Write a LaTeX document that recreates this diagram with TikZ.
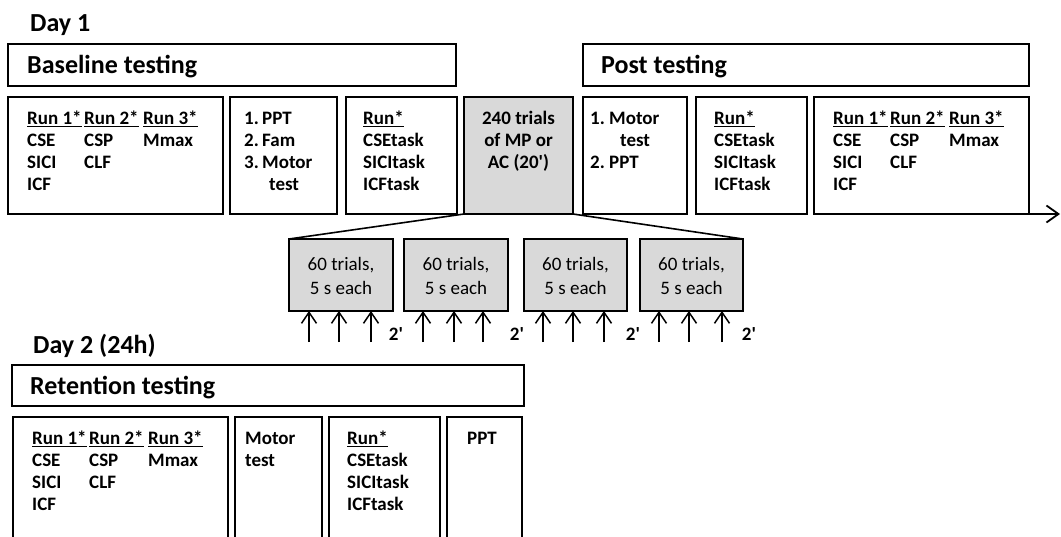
\documentclass[tikz,border=0pt]{standalone}
\usepackage{fontspec}
\setmainfont{Carlito}
\usetikzlibrary{arrows.meta}
\definecolor{boxgray}{RGB}{217,217,217}
\newcommand\ulword[1]{\leavevmode\setbox0=\hbox{#1}\rlap{\rule[-3.2pt]{\wd0}{1.3pt}}\box0}
\newcommand\numline[3]{\makebox[#1][l]{#2}#3}
\newcommand\runtable{\begin{tabular}[t]{@{}p{57pt}@{}p{59pt}@{}l@{}}\ulword{Run 1*}&\ulword{Run 2*}&\ulword{Run 3*}\\ CSE&CSP&Mmax\\ SICI&CLF&\\ ICF&&\end{tabular}}
\newcommand\tasktable{\begin{tabular}[t]{@{}l@{}}\ulword{Run*}\\ CSEtask\\ SICItask\\ ICFtask\end{tabular}}
\begin{document}
\begin{tikzpicture}[x=1pt,y=-1pt,
  box/.style={draw, line width=1.8pt, anchor=north west, inner sep=0pt, outer sep=0pt},
  graybox/.style={box, fill=boxgray},
  titletext/.style={font=\bfseries\fontsize{26}{30}\selectfont, anchor=base west, inner sep=0pt},
  bodytext/.style={font=\bfseries\fontsize{19}{22.3}\selectfont, anchor=base west, inner sep=0pt},
  plaintext/.style={font=\fontsize{19}{24}\selectfont, anchor=base, inner sep=0pt},
  linkline/.style={line width=1.6pt},
  uparrow/.style={line width=1.5pt, -{Straight Barb[length=11pt,width=15pt]}},
  timeline/.style={line width=1.8pt, -{Straight Barb[length=12pt,width=17pt]}}
]
\useasboundingbox (0,0) rectangle (1061,536);
\clip (0,0) rectangle (1061,536);
\fill[white] (0,0) rectangle (1061,536);

% Day 1
\node[titletext] (day1) at (30,31) {Day 1};
\node[box, minimum width=448pt, minimum height=42pt] (BL) at (8,44) {};
\node[box, minimum width=446pt, minimum height=42pt] (PT) at (583,44) {};
\node[titletext] (bltxt) at (27,73) {Baseline testing};
\node[titletext] (pttxt) at (601,73) {Post testing};

\node[box, minimum width=215pt, minimum height=117pt] (A) at (8,97) {};
\node[box, minimum width=107pt, minimum height=117pt] (B) at (230,97) {};
\node[box, minimum width=111pt, minimum height=117pt] (C) at (346,97) {};
\node[graybox, minimum width=109pt, minimum height=117pt] (D) at (464,97) {};
\node[box, minimum width=104pt, minimum height=117pt] (P1) at (583,97) {};
\node[box, minimum width=111pt, minimum height=117pt] (P2) at (696,97) {};
\node[box, minimum width=215pt, minimum height=117pt] (P3) at (814,97) {};

\node[bodytext] (Atxt) at (27,124) {\runtable};
\node[bodytext] (Btxt) at (244,124) {\begin{tabular}[t]{@{}l@{}}\numline{18pt}{1.}{PPT}\\ \numline{18pt}{2.}{Fam}\\ \numline{18pt}{3.}{Motor}\\ \hspace*{25pt}test\end{tabular}};
\node[bodytext] (Ctxt) at (363,124) {\tasktable};
\node[bodytext, anchor=base] (Dtxt) at (518.5,124) {\begin{tabular}[t]{@{}c@{}}240 trials\\ of MP or\\ AC (20\textquotesingle)\end{tabular}};
\node[bodytext] (P1txt) at (590,124) {\begin{tabular}[t]{@{}l@{}}\numline{19pt}{1.}{Motor}\\ \hspace*{30pt}test\\ \numline{19pt}{2.}{PPT}\end{tabular}};
\node[bodytext] (P2txt) at (714,124) {\tasktable};
\node[bodytext] (P3txt) at (833,124) {\runtable};

\coordinate (tlend) at (1060,214);
\draw[timeline] (P3.south west) -- (tlend);

% training blocks
\node[graybox, minimum width=104pt, minimum height=72pt] (S1) at (289,239) {};
\node[graybox, minimum width=104pt, minimum height=72pt] (S2) at (404,239) {};
\node[graybox, minimum width=103pt, minimum height=72pt] (S3) at (524,239) {};
\node[graybox, minimum width=103pt, minimum height=72pt] (S4) at (640,239) {};
\foreach \s in {S1,S2,S3,S4}{
  \node[plaintext] (\s txt) at ([yshift=-31pt]\s.north) {\begin{tabular}[t]{@{}c@{}}60 trials,\\ 5 s each\end{tabular}};
}
\draw[linkline] (D.south west) -- (S1.north west);
\draw[linkline] (D.south east) -- (S4.north east);

\foreach \s/\xa/\xb/\xc/\xt in {S1/309/339/371/396, S2/423/454/483/517, S3/543/573/604/633, S4/659/689/722/749}{
  \foreach \xx [count=\i] in {\xa,\xb,\xc}{
    \coordinate (t-\s-\i) at (\xx,342);
    \draw[uparrow] (t-\s-\i) -- (t-\s-\i |- \s.south);
  }
  \node[bodytext, anchor=base] (m-\s) at (\xt,340) {2\textquotesingle};
}

% Day 2
\node[titletext] (day2) at (33,353) {Day 2 (24h)};
\node[box, minimum width=512pt, minimum height=41pt] (RT) at (12,365) {};
\node[titletext] (rttxt) at (30,394) {Retention testing};
\node[box, minimum width=215pt, minimum height=150pt] (R1) at (13,417) {};
\node[box, minimum width=87pt, minimum height=150pt] (R2) at (235,417) {};
\node[box, minimum width=111pt, minimum height=150pt] (R3) at (329,417) {};
\node[box, minimum width=75pt, minimum height=150pt] (R4) at (447,417) {};
\node[bodytext] (R1txt) at (32,444) {\runtable};
\node[bodytext] (R2txt) at (245,444) {\begin{tabular}[t]{@{}l@{}}Motor\\ test\end{tabular}};
\node[bodytext] (R3txt) at (347,444) {\tasktable};
\node[bodytext] (R4txt) at (467,444) {PPT};
\end{tikzpicture}
\end{document}
